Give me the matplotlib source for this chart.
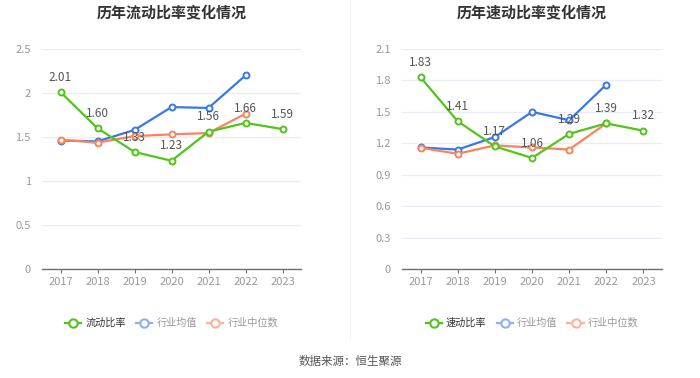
import matplotlib
matplotlib.use("Agg")
import matplotlib.pyplot as plt
from matplotlib.lines import Line2D

plt.rcParams['font.family'] = ['Noto Sans CJK SC', 'DejaVu Sans']

years = ['2017', '2018', '2019', '2020', '2021', '2022', '2023']

current_ratio = [2.01, 1.60, 1.33, 1.23, 1.56, 1.66, 1.59]
current_mean = [1.46, 1.45, 1.58, 1.84, 1.83, 2.20]
current_median = [1.47, 1.435, 1.51, 1.53, 1.545, 1.765]

quick_ratio = [1.83, 1.41, 1.17, 1.06, 1.29, 1.39, 1.32]
quick_mean = [1.16, 1.14, 1.26, 1.50, 1.42, 1.76]
quick_median = [1.157, 1.10, 1.18, 1.16, 1.14, 1.39]

left_ticks = [0, 0.5, 1, 1.5, 2, 2.5]
left_ticklabels = ['0', '0.5', '1', '1.5', '2', '2.5']
right_ticks = [0, 0.3, 0.6, 0.9, 1.2, 1.5, 1.8, 2.1]
right_ticklabels = ['0', '0.3', '0.6', '0.9', '1.2', '1.5', '1.8', '2.1']

GREEN = '#52c41a'
BLUE = '#3b78e7'
ORANGE = '#f7845e'
BLUE_L = '#8fb0f0'
ORANGE_L = '#f9b49c'

W, H = 700, 378
fig = plt.figure(figsize=(7.0, 3.78), dpi=100)
fig.patch.set_facecolor('white')


def draw(rect, title, main, mean, median, ticks, ticklabels, ymax, name):
    ax = fig.add_axes([rect[0] / W, 1 - (rect[1] + rect[3]) / H, rect[2] / W, rect[3] / H])
    x = list(range(len(years)))
    for ser, col in ((mean, BLUE), (median, ORANGE), (main, GREEN)):
        ax.plot(x[:len(ser)], ser, color=col, lw=1.6, marker='o', ms=4.3,
                mfc='white', mec=col, mew=1.4, zorder=3, clip_on=False)
    for xi, v in zip(x, main):
        ax.annotate(f'{v:.2f}', (xi, v), xytext=(0, 6), textcoords='offset points',
                    ha='center', va='bottom', fontsize=8.5, color='#555555', zorder=4)
    ax.set_xlim(-0.5, len(years) - 0.5)
    ax.set_ylim(0, ymax)
    ax.set_yticks(ticks)
    ax.set_yticklabels(ticklabels)
    ax.set_xticks(x)
    ax.set_xticklabels(years)
    for s in ('top', 'right', 'left'):
        ax.spines[s].set_visible(False)
    ax.spines['bottom'].set_color('#6e7079')
    ax.spines['bottom'].set_linewidth(1)
    ax.tick_params(axis='y', length=0, labelsize=8, labelcolor='#999999', pad=8)
    ax.tick_params(axis='x', length=3, color='#6e7079', labelsize=8,
                   labelcolor='#999999', pad=3)
    ax.grid(axis='y', color='#e9edf5', lw=0.9)
    ax.set_axisbelow(True)
    cx = (rect[0] + rect[2] / 2) / W
    fig.text(cx, 1 - 12 / H, title, ha='center', va='center', fontsize=10.8,
             fontweight='bold', color='#333333')
    handles = [
        Line2D([], [], color=GREEN, lw=1.6, marker='o', ms=6, mfc='white', mec=GREEN, mew=1.5),
        Line2D([], [], color=BLUE_L, lw=1.6, marker='o', ms=6, mfc='white', mec=BLUE_L, mew=1.5),
        Line2D([], [], color=ORANGE_L, lw=1.6, marker='o', ms=6, mfc='white', mec=ORANGE_L, mew=1.5),
    ]
    labels = [name, '行业均值', '行业中位数']
    leg = ax.legend(handles, labels, loc='center', bbox_to_anchor=(0.5, -54 / rect[3]),
                    ncol=3, frameon=False, fontsize=7.3, handlelength=1.6,
                    handletextpad=0.4, columnspacing=1.0)
    for t, c in zip(leg.get_texts(), ['#333333', '#999999', '#999999']):
        t.set_color(c)
    return ax


draw((42, 49, 259, 220), '历年流动比率变化情况', current_ratio, current_mean, current_median,
     left_ticks, left_ticklabels, 2.5, '流动比率')
draw((402, 49, 260, 220), '历年速动比率变化情况', quick_ratio, quick_mean, quick_median,
     right_ticks, right_ticklabels, 2.1, '速动比率')

fig.add_artist(Line2D([350 / W, 350 / W], [1 - 340 / H, 1.0], color='#f2f2f2', lw=0.8))
fig.text(0.5, 1 - 361 / H, '数据来源：恒生聚源', ha='center', va='center',
         fontsize=8.3, color='#555555')

fig.savefig('out.png', dpi=100, facecolor='white')
